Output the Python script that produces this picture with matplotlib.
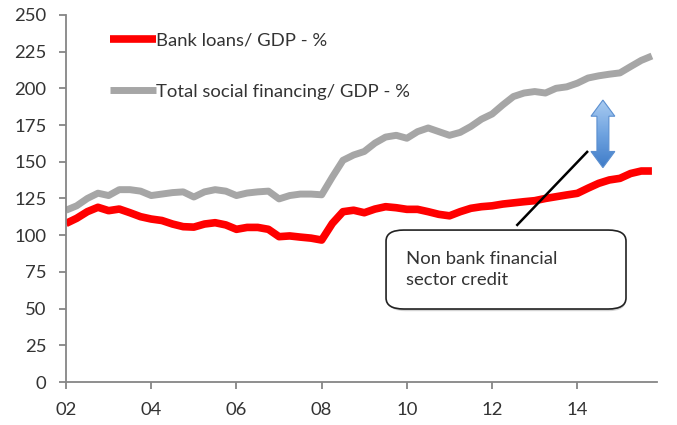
import numpy as np
import matplotlib.pyplot as plt
from matplotlib.patches import FancyBboxPatch, Polygon
from matplotlib.colors import LinearSegmentedColormap

plt.rcParams['font.family'] = ['Lato', 'DejaVu Sans']

# quarterly, 2002Q1 .. 2015Q4
start_year = 2002
bank_loans = [108, 111.5, 116, 119, 116.7, 117.8, 115.3, 112.6,
              111, 110, 107.6, 105.8, 105.5, 107.6, 108.5, 107,
              104, 105.3, 105.3, 104, 99, 99.5, 98.7, 98,
              96.7, 108, 116, 117, 115.3, 117.8, 119.4, 118.7,
              117.6, 117.6, 116, 114.2, 113.2, 116, 118.3, 119.4,
              120, 121.2, 122, 122.8, 123.5, 125, 126.2, 127.4,
              128.5, 132, 135.3, 137.6, 138.7, 142, 143.7, 143.7]
total_social = [117, 120, 125, 128.6, 127, 131, 131, 130,
                127, 128, 129, 129.5, 126, 129.5, 131, 130,
                127, 128.7, 129.5, 130, 124.7, 127, 128, 128,
                127.5, 139.6, 151, 154.6, 157, 162.7, 166.8, 168,
                166, 170.5, 173, 170.5, 168, 170, 174, 179,
                182.5, 188.7, 194.4, 196.8, 197.8, 196.8, 200, 201,
                203.5, 207, 208.5, 209.6, 210.5, 214.8, 219, 222]
labels = ['Bank loans/ GDP - %', 'Total social financing/ GDP - %']
tick_years = [2002, 2004, 2006, 2008, 2010, 2012, 2014]
note = 'Non bank financial\nsector credit'

x = start_year + np.arange(len(bank_loans)) / 4
FS = 13.3

fig = plt.figure(figsize=(6.77, 4.25), dpi=100)
ax = fig.add_axes([0.0975, 0.101, 0.873, 0.864])

ax.plot(x, bank_loans, color='#ff0000', lw=5.5, solid_capstyle='butt', label=labels[0])
ax.plot(x, total_social, color='#a6a6a6', lw=5, solid_capstyle='butt', label=labels[1])

ax.set_xlim(2002, 2015.87)
ax.set_ylim(0, 250)
ax.set_yticks(np.arange(0, 251, 25))
ax.set_xticks(tick_years)
ax.set_xticklabels([f'{y % 100:02d}' for y in tick_years])
for s in ['top', 'right']:
    ax.spines[s].set_visible(False)
for s in ['left', 'bottom']:
    ax.spines[s].set_color('#868686')
    ax.spines[s].set_linewidth(1.3)
ax.tick_params(colors='#868686', labelcolor='#333333', labelsize=FS,
               length=5, width=1.3, pad=9)

ax.legend(loc='upper left', bbox_to_anchor=(0.075, 0.952), frameon=False,
          fontsize=FS, handlelength=2.45, handletextpad=0.0, labelspacing=1.9,
          borderpad=0, borderaxespad=0, labelcolor='#333333')

# callout line and box
ax.plot([2012.59, 2014.23], [107, 156.7], color='black', lw=1.8)
shadow = FancyBboxPatch((0.545, 0.193), 0.4025, 0.212, transform=ax.transAxes,
                        boxstyle='round,pad=0,rounding_size=0.03',
                        fc='#d4d4d4', ec='none', zorder=3)
box = FancyBboxPatch((0.5415, 0.199), 0.406, 0.215, transform=ax.transAxes,
                     boxstyle='round,pad=0,rounding_size=0.03',
                     fc='white', ec='#222222', lw=1.2, zorder=4)
ax.add_patch(shadow)
ax.add_patch(box)
ax.text(0.575, 0.358, note, transform=ax.transAxes, fontsize=FS, color='#333333',
        va='top', ha='left', linespacing=1.4, zorder=5)

# blue double arrow between the two lines
cx, y0, y1 = 2014.6, 146, 192
hw, sw, hl = 0.28, 0.14, 11
pts = [(cx, y1), (cx + hw, y1 - hl), (cx + sw, y1 - hl), (cx + sw, y0 + hl),
       (cx + hw, y0 + hl), (cx, y0), (cx - hw, y0 + hl), (cx - sw, y0 + hl),
       (cx - sw, y1 - hl), (cx - hw, y1 - hl)]
arrow = Polygon(pts, closed=True, fc='none', ec='#5b8fd0', lw=0.8, zorder=6)
ax.add_patch(arrow)
grad = np.linspace(0, 1, 100).reshape(-1, 1)
cmap = LinearSegmentedColormap.from_list('b', ['#3f7cc8', '#6fa3e0', '#a9cbf1'])
im = ax.imshow(grad, extent=[cx - hw, cx + hw, y0, y1], origin='lower',
               cmap=cmap, aspect='auto', zorder=5)
im.set_clip_path(arrow)

fig.savefig('out.png', dpi=100)
